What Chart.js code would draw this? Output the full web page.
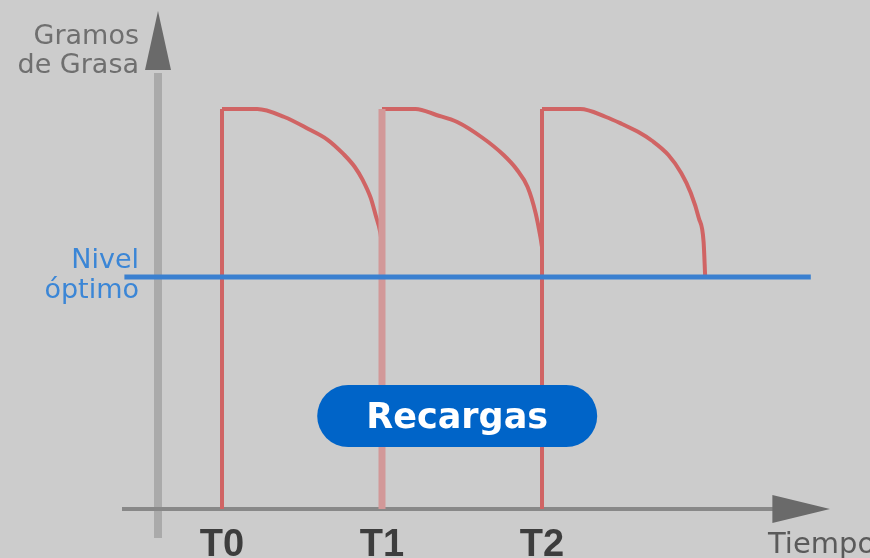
<!DOCTYPE html>
<html lang="es">
<head>
<meta charset="UTF-8">
<title>Gramos de grasa - recargas</title>
<script src="https://cdn.jsdelivr.net/npm/chart.js"></script>
<style>
body {
  margin: 0;
  background-color: #cccccc;
}
#wrap {
  width: 870px;
  height: 558px;
}
</style>
</head>
<body>
<div id="wrap"><canvas id="grafico" width="870" height="558"></canvas></div>

<script>
// datos (x en periodos desde T0, y en gramos relativos)
const tiempos = [0, 1, 2];
const etiquetasT = ["T0", "T1", "T2"];
const cargaMaxima = 100;
const nivelOptimo = 58;
const nivelDesde = -0.61;
const nivelHasta = 3.68;

const arco1X = [0, 0.22, 0.39, 0.54, 0.66, 0.76, 0.83, 0.88, 0.93, 0.96, 0.99, 1.0];
const arco1Y = [100, 100, 98, 95, 92.3, 88.7, 85.5, 82.2, 77.7, 73.5, 69, 66];

const arco2X = [1.0, 1.21, 1.34, 1.47, 1.63, 1.76, 1.84, 1.91, 1.96, 1.99, 2.0];
const arco2Y = [100, 100, 98.5, 96.75, 92.75, 88.5, 85, 80.5, 74, 68, 65.5];

const arco3X = [2.0, 2.24, 2.40, 2.50, 2.60, 2.69, 2.79, 2.87, 2.93, 2.98, 3.01, 3.02];
const arco3Y = [100, 100, 98, 96.25, 94.3, 92, 88.5, 84, 79, 72.75, 66.75, 58];

// posicion del rotulo "Recargas"
const recargasX = 1.47;
const recargasY = 23.25;

const rojo = "#d06464";

function puntos(xs, ys) {
  return xs.map((x, i) => ({ x: x, y: ys[i] }));
}

function vertical(t) {
  return [{ x: t, y: 0 }, { x: t, y: cargaMaxima }];
}

const ejes = {
  id: "ejes",
  beforeDatasetsDraw(chart) {
    const ctx = chart.ctx;
    const xs = chart.scales.x, ys = chart.scales.y;
    const ejeX = xs.getPixelForValue(-0.4);
    const ejeY = ys.getPixelForValue(0);
    ctx.save();
    // eje vertical
    ctx.strokeStyle = "#aaaaaa";
    ctx.lineWidth = 8;
    ctx.beginPath();
    ctx.moveTo(ejeX, ys.getPixelForValue(-7.25));
    ctx.lineTo(ejeX, ys.getPixelForValue(109));
    ctx.stroke();
    ctx.fillStyle = "#6a6a6a";
    ctx.beginPath();
    ctx.moveTo(ejeX - 13, ys.getPixelForValue(109.75));
    ctx.lineTo(ejeX + 13, ys.getPixelForValue(109.75));
    ctx.lineTo(ejeX, ys.getPixelForValue(124.5));
    ctx.closePath();
    ctx.fill();
    // eje horizontal
    ctx.strokeStyle = "#888888";
    ctx.lineWidth = 4;
    ctx.beginPath();
    ctx.moveTo(xs.getPixelForValue(-0.625), ejeY);
    ctx.lineTo(xs.getPixelForValue(3.45), ejeY);
    ctx.stroke();
    ctx.beginPath();
    ctx.moveTo(xs.getPixelForValue(3.44), ejeY - 14);
    ctx.lineTo(xs.getPixelForValue(3.44), ejeY + 14);
    ctx.lineTo(xs.getPixelForValue(3.8), ejeY);
    ctx.closePath();
    ctx.fill();
    ctx.restore();
  },
  afterDatasetsDraw(chart) {
    const ctx = chart.ctx;
    const xs = chart.scales.x, ys = chart.scales.y;
    ctx.save();

    // boton Recargas
    const cx = xs.getPixelForValue(recargasX);
    const cy = ys.getPixelForValue(recargasY);
    const w = 280, h = 62, r = 31;
    ctx.fillStyle = "#0064c8";
    ctx.beginPath();
    ctx.roundRect(cx - w / 2, cy - h / 2, w, h, r);
    ctx.fill();
    ctx.fillStyle = "#ffffff";
    ctx.font = "bold 35px 'DejaVu Sans'";
    ctx.textAlign = "center";
    ctx.textBaseline = "alphabetic";
    ctx.fillText("Recargas", cx, cy + 12);

    // titulo eje Y
    ctx.fillStyle = "#6f6f6f";
    ctx.font = "27px 'DejaVu Sans'";
    ctx.textAlign = "right";
    ctx.fillText("Gramos", 139, 44);
    ctx.fillText("de Grasa", 139, 73);

    // nivel optimo
    ctx.fillStyle = "#3b86d6";
    ctx.fillText("Nivel", 139, 268);
    ctx.fillText("óptimo", 139, 298);

    // etiquetas T
    ctx.fillStyle = "#3d3d3d";
    ctx.font = "bold 38px 'Liberation Sans'";
    ctx.textAlign = "center";
    tiempos.forEach((t, i) => {
      ctx.fillText(etiquetasT[i], xs.getPixelForValue(t), 556);
    });

    // Tiempo
    ctx.fillStyle = "#5a5a5a";
    ctx.font = "29px 'DejaVu Sans'";
    ctx.textAlign = "left";
    ctx.fillText("Tiempo", 768, 553);

    ctx.restore();
  }
};

const lineaBase = { fill: false, pointRadius: 0, borderWidth: 4, tension: 0 };

new Chart(document.getElementById("grafico"), {
  type: "line",
  data: {
    datasets: [
      { ...lineaBase, data: [{ x: nivelDesde, y: nivelOptimo }, { x: nivelHasta, y: nivelOptimo }], borderColor: "#3a80d0", borderWidth: 5 },
      { ...lineaBase, data: vertical(tiempos[0]), borderColor: rojo },
      { ...lineaBase, data: vertical(tiempos[1]), borderColor: "#d29898", borderWidth: 7 },
      { ...lineaBase, data: vertical(tiempos[2]), borderColor: rojo },
      { ...lineaBase, data: puntos(arco1X, arco1Y), borderColor: rojo, cubicInterpolationMode: "monotone" },
      { ...lineaBase, data: puntos(arco2X, arco2Y), borderColor: rojo, cubicInterpolationMode: "monotone" },
      { ...lineaBase, data: puntos(arco3X, arco3Y), borderColor: rojo, cubicInterpolationMode: "monotone" }
    ]
  },
  options: {
    responsive: false,
    animation: false,
    layout: { padding: { left: 102, right: 40, top: 9, bottom: 9 } },
    scales: {
      x: { type: "linear", min: -0.75, max: 3.8, display: false },
      y: { min: -10, max: 125, display: false }
    },
    plugins: {
      legend: { display: false },
      tooltip: { enabled: false }
    }
  },
  plugins: [ejes]
});
</script>
</body>
</html>
